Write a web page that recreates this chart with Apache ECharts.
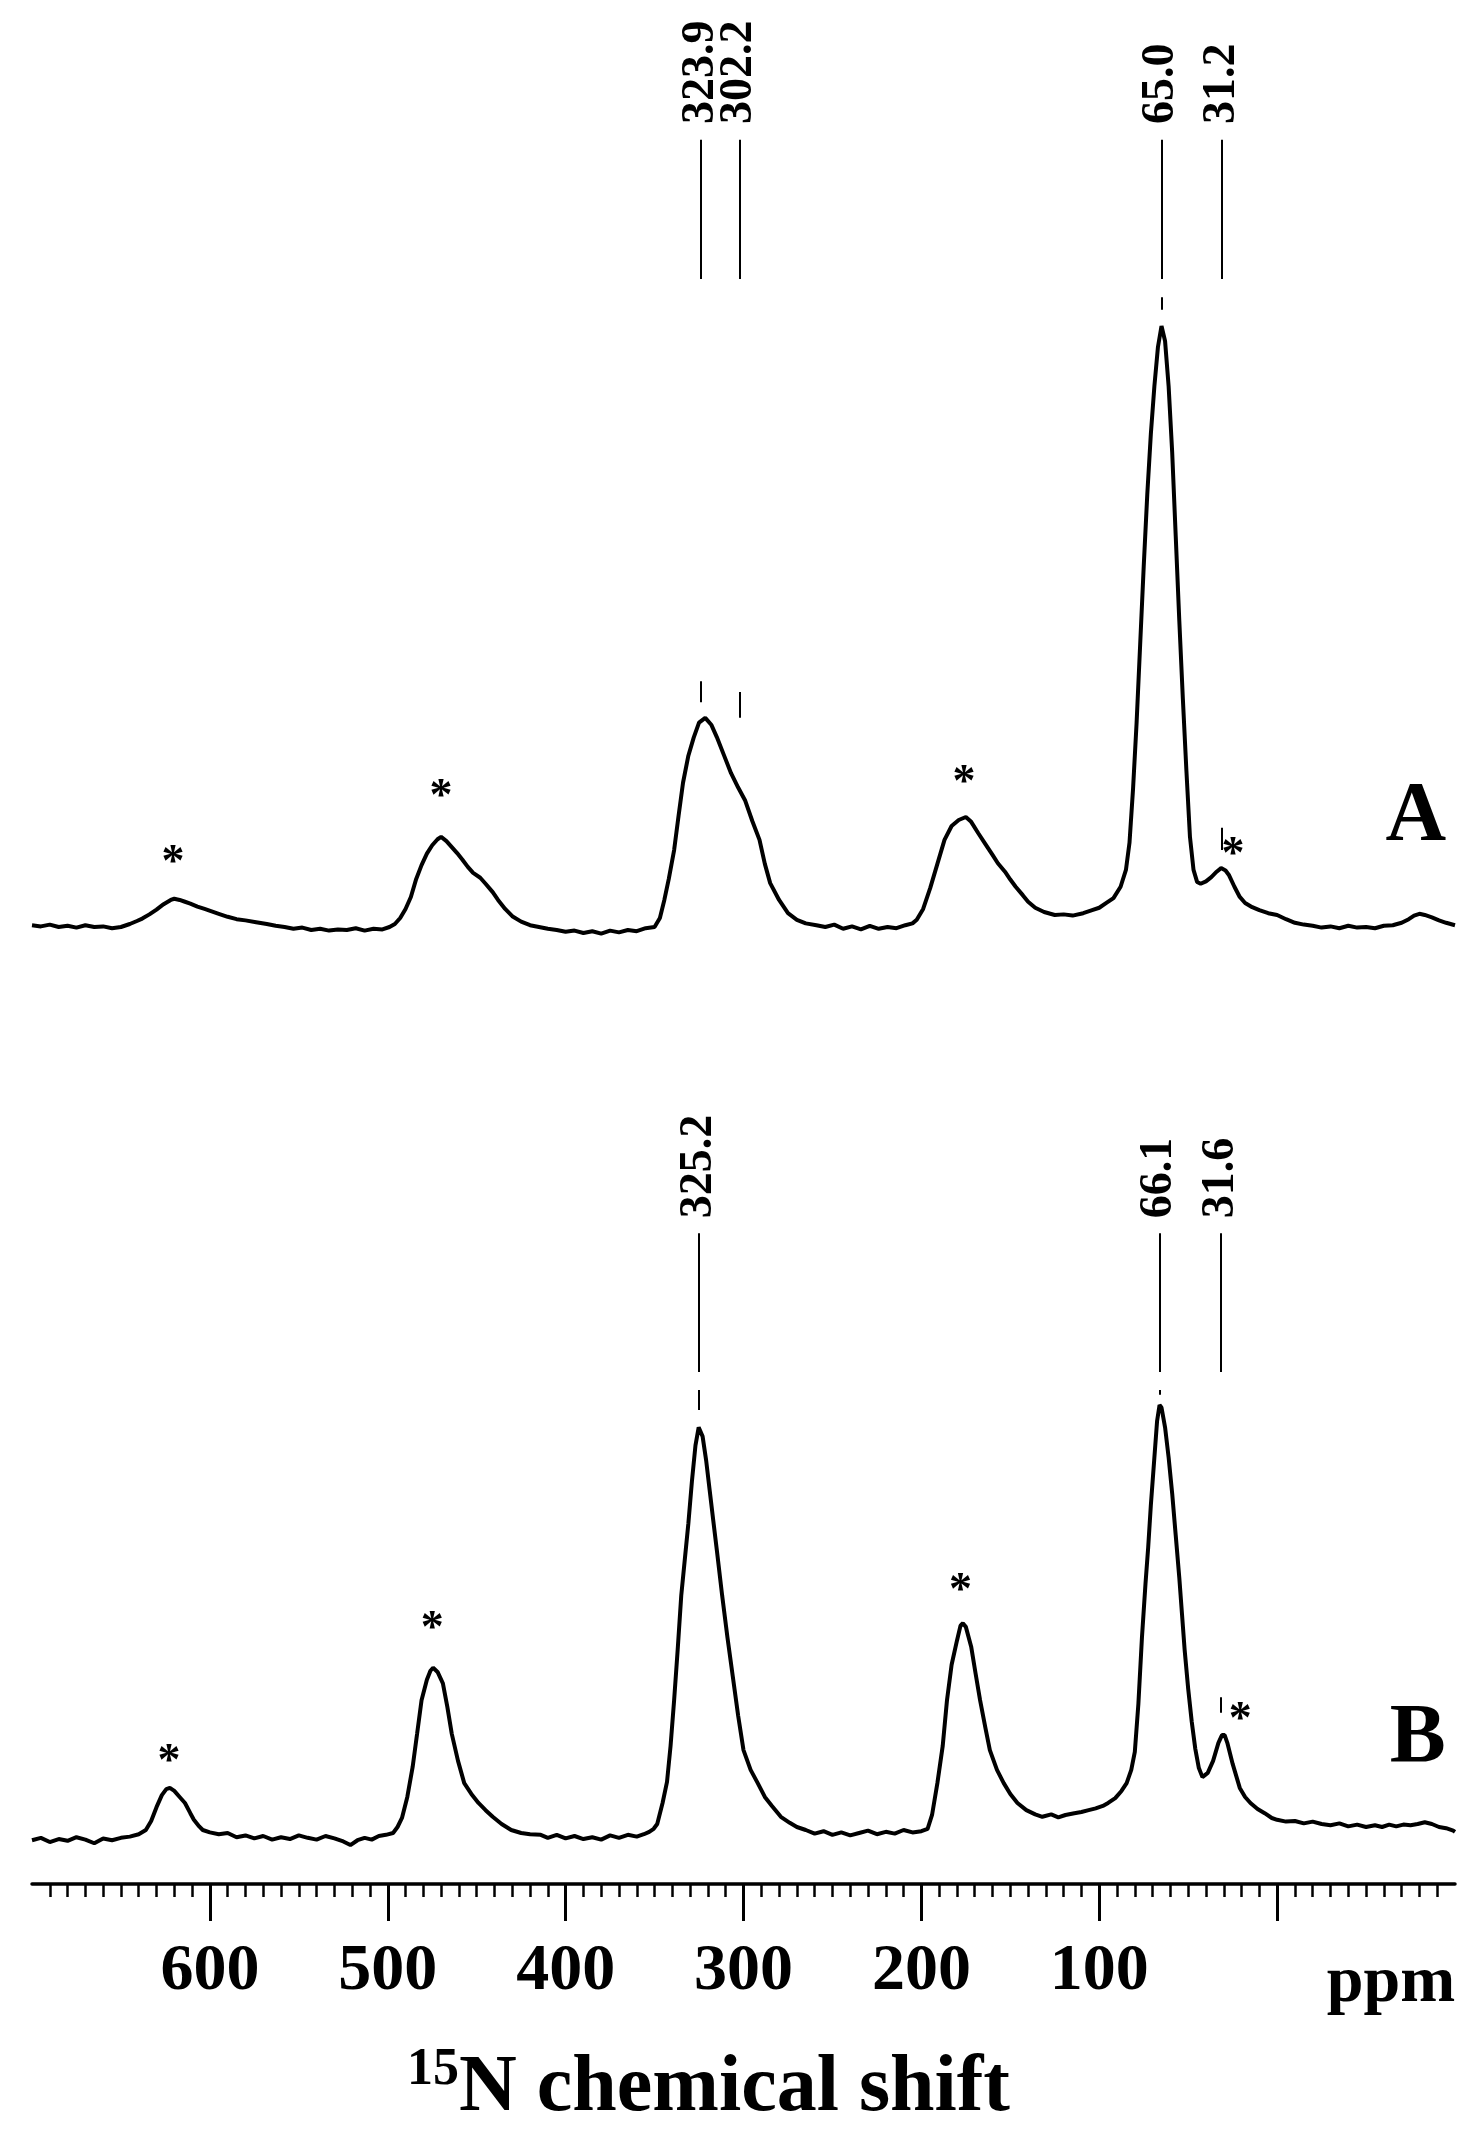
<!DOCTYPE html>
<html>
<head>
<meta charset="utf-8">
<script src="https://cdn.jsdelivr.net/npm/echarts@6/dist/echarts.min.js"></script>
<style>
html, body { margin: 0; padding: 0; background: #fff; }
#main { width: 1481px; height: 2151px; }
</style>
</head>
<body>
<div id="main"></div>
<script>
// spectrum A : [ppm, intensity]  (65 ppm peak = 100)
const spectrumA = [
  [700,0.3],[695,0.1],[690,0.4],[685,0.0],[680,0.2],[675,-0.1],[670,0.3],[665,0.0],[660,0.1],[655,-0.2],
  [650,0.0],[645,0.5],[641,1.0],[638,1.4],[634,2.1],[630,2.9],[626,3.8],[622,4.5],[620,4.7],[617,4.5],
  [614,4.2],[611,3.9],[607,3.4],[603,3.0],[599,2.6],[595,2.2],[590,1.7],[585,1.3],[580,1.1],[574,0.8],
  [568,0.5],[563,0.2],[558,0.0],[553,-0.3],[548,-0.1],[543,-0.5],[538,-0.3],[533,-0.6],[528,-0.4],[523,-0.5],
  [518,-0.2],[513,-0.6],[508,-0.3],[503,-0.4],[499,0.0],[496,0.5],[493,1.5],[490,3.0],[487,5.0],[484,8.0],
  [481,10.3],[478,12.2],[475,13.6],[472,14.6],[470,15.0],[467,14.3],[464,13.3],[461,12.3],[458,11.2],[455,10.0],
  [452,9.0],[448,8.2],[445,7.2],[441,5.8],[438,4.5],[434,3.0],[430,1.8],[425,0.9],[420,0.3],[415,0.0],
  [410,-0.3],[405,-0.5],[400,-0.8],[395,-0.6],[390,-1.0],[385,-0.7],[380,-1.1],[375,-0.6],[370,-0.9],[365,-0.5],
  [360,-0.7],[355,-0.2],[350,0.0],[347,1.5],[344.5,4.5],[342,8.0],[339,12.8],[336.5,18.5],[334,24.0],[331,28.5],
  [328,31.5],[325,34.0],[321.5,34.8],[318,33.6],[315,31.6],[311,28.6],[307,25.6],[303,23.2],[299,21.0],[295,17.6],
  [291,14.5],[288,10.5],[285,7.3],[280,4.5],[275,2.3],[270,1.2],[265,0.6],[259,0.3],[254,0.0],[249,0.4],
  [244,-0.3],[239,0.1],[234,-0.4],[229,0.2],[224,-0.3],[219,0.0],[214,-0.2],[209,0.3],[205,0.6],[202.6,1.2],
  [199,3.0],[195,6.5],[191,10.5],[187,14.5],[183,16.8],[179,17.8],[175,18.3],[172,17.5],[168,15.6],[164,13.8],
  [160,12.0],[157,10.6],[153,9.2],[150,7.9],[147,6.7],[143,5.3],[140,4.2],[136,3.2],[131,2.5],[125,2.0],
  [120,2.1],[115,1.9],[109,2.3],[104,2.8],[100,3.2],[96,4.0],[92,4.8],[88,6.7],[85,9.5],[83,14],
  [81,23],[79,34],[77,47],[75,60],[73,72],[71,82],[69,90],[67,96.5],[65,100],[63,97.5],
  [61,90],[59,79],[57,65],[55,51],[53,38],[51,26],[49,15],[47,9.5],[45,7.5],[43,7.2],
  [40,7.6],[37,8.3],[34,9.2],[31.5,9.8],[29,9.4],[27,8.6],[24,6.7],[21,5.0],[18,4.0],[14,3.3],
  [10,2.8],[5,2.3],[0,2.0],[-5,1.3],[-10,0.7],[-15,0.4],[-20,0.2],[-25,-0.1],[-30,0.1],[-35,-0.2],
  [-40,0.2],[-45,-0.1],[-50,0.0],[-55,-0.2],[-60,0.2],[-65,0.3],[-70,0.7],[-74,1.3],[-77,1.9],[-80,2.2],
  [-83,2.0],[-87,1.6],[-91,1.1],[-95,0.7],[-100,0.3]
];

// spectrum B : [ppm, intensity]
const spectrumB = [
  [700,-0.7],[695,-0.3],[690,-1.0],[685,-0.5],[680,-0.8],[675,-0.2],[670,-0.6],[665,-1.2],[660,-0.4],[655,-0.7],
  [650,-0.3],[645,-0.1],[640,0.3],[636,1.0],[633,2.5],[630,4.8],[627,6.8],[624.5,7.8],[622.5,8.0],[620,7.5],
  [617,6.5],[614,5.5],[611,3.8],[609,2.7],[606,1.6],[604,1.0],[600,0.6],[595,0.3],[590,0.5],[585,-0.2],
  [580,0.1],[575,-0.4],[570,0.0],[565,-0.6],[560,-0.2],[555,-0.5],[550,0.1],[545,-0.3],[540,-0.6],[535,0.0],
  [530,-0.4],[525,-0.9],[521,-1.5],[517,-0.7],[513,-0.3],[509,-0.6],[505,0.0],[501,0.2],[497,0.5],[494.5,1.5],
  [492,3.0],[489,6.5],[486,11.5],[483.5,17],[481,22.6],[478,26],[476,27.5],[474.5,28.0],[472,27.3],[469,25.4],
  [466.5,21.5],[464,17],[460.5,12.5],[457,8.8],[453,7],[449,5.5],[445,4.3],[441,3.2],[436,2.0],[430.6,1.0],
  [425,0.5],[420,0.3],[414,0.2],[410,-0.3],[405,0.2],[400,-0.4],[395,0.0],[390,-0.5],[385,-0.2],[380,-0.6],
  [375,0.1],[370,-0.3],[365,0.2],[360,-0.1],[356,0.3],[353,0.7],[350.5,1.2],[348.5,2],[345.5,5.5],[343,9],
  [341,15],[339,22.6],[337,31],[335,40],[333,46],[331,52],[329,59],[327,65],[325.2,68],[323,66.5],
  [321,62.5],[319,57.5],[317,52.5],[315,47.6],[312,40],[309,33],[306,26.5],[303,20],[300,14.3],[296,11],
  [292,8.8],[288,6.5],[284,5],[279,3.2],[274,2.2],[270,1.5],[265,1.0],[260,0.4],[255,0.8],[250,0.2],
  [245,0.6],[240,0.1],[235,0.5],[230,0.9],[225,0.3],[220,0.7],[215,0.4],[210,1.0],[205,0.6],[200,0.8],
  [196.5,1.2],[194,3.5],[191,8.8],[188,15],[185.6,22.6],[183,28.5],[180,32.5],[178,35],[176.7,35.4],[175,34.8],
  [172,31.5],[169.5,27],[167,22.6],[164,18],[161.5,14.3],[157.5,11],[153.7,8.8],[150,7],[146,5.5],[141,4.3],
  [136,3.6],[132,3.2],[127,3.6],[123,3.1],[119,3.5],[114,3.8],[110,4.0],[106,4.3],[102,4.6],[98,5.0],
  [95,5.5],[91,6.3],[87.5,7.5],[84.6,8.8],[82,11],[80,14],[78,22],[76,33],[74,42],[72.5,48],
  [71,55],[69,63],[67.5,69],[66.1,71.7],[65,71.3],[63,68],[61,63],[59,57],[57,50],[55,43],
  [53.5,37],[52,31],[50,24.5],[48,19],[46,14.5],[44,11.3],[42,9.8],[41,9.6],[39,10.5],[36,12.5],
  [33,15.5],[31,16.8],[29.5,16.8],[28,15.5],[25,12],[21,8],[18,6.5],[15,5.5],[11,4.5],[7,3.8],
  [3,3.0],[0,2.7],[-5,2.4],[-10,2.5],[-15,2.1],[-20,2.4],[-25,2.0],[-30,1.8],[-35,2.1],[-40,1.6],
  [-45,1.9],[-50,1.5],[-55,1.8],[-59,1.5],[-63,1.9],[-67,1.6],[-71,1.9],[-75,1.8],[-79,2.0],[-83,2.3],
  [-87,2.0],[-91,1.5],[-95,1.3],[-99,0.9],[-100,0.7]
];

// peak labels
const peakShiftA = [323.9, 302.2, 65.0, 31.2];
const peakTextA = ['323.9', '302.2', '65.0', '31.2'];
const dashA = [[37.4, 40.9], [34.8, 39.1], [102.7, 104.8], [12.8, 16.5]];
const peakShiftB = [325.2, 66.1, 31.6];
const peakTextB = ['325.2', '66.1', '31.6'];
const dashB = [[70.9, 74.2], [73.4, 74.2], [20.5, 23.1]];

// spinning sidebands (asterisks)
const starsA = [[620.8, 10.5], [470, 21.5], [176, 23.8], [24.8, 11.8]];
const starsB = [[623, 12.2], [475, 34.3], [178, 40.5], [20.8, 19.2]];

// axis
const tickValues = [600, 500, 400, 300, 200, 100, 0];
const tickLabels = [600, 500, 400, 300, 200, 100];
const unitLabelAt = -64;

const FONT = "'Liberation Serif','Times New Roman',serif";

function stickLines(shifts, dashes, lo, hi) {
  const out = [];
  shifts.forEach((s, i) => {
    out.push([{ coord: [s, lo] }, { coord: [s, hi] }]);
    out.push([{ coord: [s, dashes[i][0]] }, { coord: [s, dashes[i][1]] }]);
  });
  return out;
}

function textSeries(idx, points, size, rotate) {
  return {
    type: 'scatter',
    xAxisIndex: idx,
    yAxisIndex: idx,
    symbolSize: 1,
    silent: true,
    itemStyle: { color: 'rgba(0,0,0,0)', opacity: 1 },
    data: points,
    label: {
      show: true,
      position: 'inside',
      formatter: p => p.name,
      rotate: rotate,
      align: rotate ? 'left' : 'center',
      verticalAlign: 'middle',
      fontFamily: FONT,
      fontWeight: 'bold',
      fontSize: size,
      color: '#000',
      opacity: 1
    }
  };
}

function spectrumSeries(idx, data, sticks) {
  return {
    type: 'line',
    xAxisIndex: idx,
    yAxisIndex: idx,
    data: data,
    showSymbol: false,
    silent: true,
    clip: false,
    lineStyle: { color: '#000', width: 4 },
    markLine: {
      silent: true,
      symbol: ['none', 'none'],
      label: { show: false },
      lineStyle: { color: '#000', width: 2, type: 'solid' },
      data: sticks
    }
  };
}

const hiddenX = { type: 'value', min: -100, max: 700, interval: 100, inverse: true, show: false };

const option = {
  animation: false,
  backgroundColor: '#fff',
  grid: [
    { left: 32, right: 26, top: 25.5, height: 961.6, outerBoundsMode: 'none' },
    { left: 32, right: 26, top: 1054.7, height: 829.4, outerBoundsMode: 'none' }
  ],
  xAxis: [
    Object.assign({ gridIndex: 0 }, hiddenX),
    {
      gridIndex: 1,
      type: 'value',
      min: -100,
      max: 700,
      interval: 100,
      inverse: true,
      axisLine: { show: true, onZero: false, lineStyle: { color: '#000', width: 3.5 } },
      axisTick: { show: true, customValues: tickValues, length: 37, lineStyle: { color: '#000', width: 3 } },
      minorTick: { show: true, splitNumber: 10, length: 13, lineStyle: { color: '#000', width: 2.5 } },
      splitLine: { show: false },
      minorSplitLine: { show: false },
      axisLabel: {
        customValues: tickLabels.concat([unitLabelAt]),
        formatter: v => (v === unitLabelAt ? '{u|ppm}' : String(v)),
        margin: 55,
        color: '#000',
        fontFamily: FONT,
        fontWeight: 'bold',
        fontSize: 66,
        rich: {
          u: { fontFamily: FONT, fontWeight: 'bold', fontSize: 66, color: '#000', padding: [12, 0, 0, 0] }
        }
      },
      name: '{sup|15}{main|N chemical shift}',
      nameLocation: 'middle',
      nameGap: 160,
      nameTextStyle: {
        padding: [0, 70, 0, 0],
        rich: {
          sup: { fontFamily: FONT, fontWeight: 'bold', fontSize: 52, lineHeight: 40, verticalAlign: 'top', color: '#000' },
          main: { fontFamily: FONT, fontWeight: 'bold', fontSize: 80, lineHeight: 90, color: '#000' }
        }
      }
    }
  ],
  yAxis: [
    { gridIndex: 0, type: 'value', min: -10, max: 150, show: false },
    { gridIndex: 1, type: 'value', min: -8, max: 130, show: false }
  ],
  series: [
    spectrumSeries(0, spectrumA, stickLines(peakShiftA, dashA, 107.8, 131)),
    spectrumSeries(1, spectrumB, stickLines(peakShiftB, dashB, 77.2, 100.3)),
    textSeries(0, peakShiftA.map((s, i) => ({ value: [s, 133.6], name: peakTextA[i] })), 46, 90),
    textSeries(1, peakShiftB.map((s, i) => ({ value: [s, 102.8], name: peakTextB[i] })), 46, 90),
    textSeries(0, starsA.map(p => ({ value: p, name: '*' })), 46, 0),
    textSeries(1, starsB.map(p => ({ value: p, name: '*' })), 46, 0),
    textSeries(0, [{ value: [-78, 18.1], name: 'A' }], 84, 0),
    textSeries(1, [{ value: [-79, 16], name: 'B' }], 84, 0)
  ]
};

const chart = echarts.init(document.getElementById('main'));
chart.setOption(option);
</script>
</body>
</html>
